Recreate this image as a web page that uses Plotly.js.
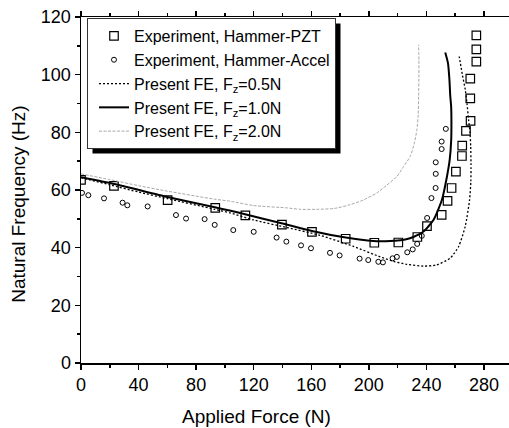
<!DOCTYPE html>
<html>
<head>
<meta charset="utf-8">
<script src="https://cdn.plot.ly/plotly-3.0.1.min.js"></script>
<style>html,body{margin:0;padding:0;background:#fff;overflow:hidden}</style>
</head>
<body>
<div id="chart" style="width:509px;height:428px"></div>
<script>
// Experiment, Hammer-PZT (squares)
const pztForce = [0, 22.9, 60.2, 93.3, 114.2, 139.6, 160.5, 183.9, 203.8, 220.5, 233.7, 240.4, 250.6, 254.7, 257.5, 260.5, 264.7, 264.9, 267.5, 270.7, 270.5, 270.5, 274.7, 274.7, 274.7];
const pztFreq  = [63.5, 61.4, 56.5, 53.8, 51.2, 48.0, 45.5, 43.1, 41.7, 41.8, 43.7, 47.5, 51.4, 56.2, 60.7, 66.4, 71.8, 75.4, 80.5, 84.0, 91.8, 98.6, 104.5, 108.8, 113.6];

// Experiment, Hammer-Accel (circles)
const accForce = [0.7, 5.1, 16.0, 28.9, 32.2, 46.3, 66.0, 73.0, 85.9, 92.9, 105.8, 120.0, 135.9, 142.7, 152.9, 159.8, 173.0, 179.7, 193.6, 199.6, 206.6, 209.8, 216.5, 219.5, 226.7, 230.5, 233.6, 236.8, 240.5, 243.5, 246.4, 246.5, 246.5, 250.6, 250.6, 253.5];
const accFreq  = [59.0, 58.2, 57.1, 55.6, 54.7, 54.3, 51.3, 50.1, 49.9, 47.9, 46.1, 45.5, 43.5, 42.1, 40.8, 39.8, 38.2, 37.3, 36.2, 35.7, 35.1, 34.9, 36.3, 36.8, 38.4, 39.4, 41.3, 44.1, 50.3, 57.2, 60.7, 65.6, 69.6, 74.2, 76.8, 81.2];

// Present FE, Fz=0.5N (dotted)
const fe05Force = [0, 20, 40, 60, 93, 104, 120, 143, 166, 189, 208, 217, 226.5, 238, 247, 256.6, 262.4, 267, 270, 270.9, 271, 270.8, 270.3, 269.3, 268.2, 267, 265, 262.8];
const fe05Freq  = [64.3, 61.8, 59.3, 57.0, 53.3, 52.0, 49.6, 47.0, 44.3, 40.5, 36.8, 35.3, 34.2, 33.6, 34.0, 36.4, 40.4, 47.4, 56.6, 63.0, 69.3, 75.0, 80.0, 84.4, 90.0, 94.8, 100.0, 106.3];

// Present FE, Fz=1.0N (solid)
const fe10Force = [0, 23, 60, 93, 104, 114, 140, 160.5, 184, 203, 215, 222, 226, 231, 238, 245, 250.8, 254.3, 256.2, 257.2, 257.4, 257.2, 256.6, 256.0, 255.0, 253.1];
const fe10Freq  = [64.4, 62.1, 57.6, 54.0, 52.8, 51.6, 48.4, 45.8, 43.5, 42.3, 42.3, 42.6, 42.9, 43.7, 45.6, 49.7, 56.6, 64.7, 70.5, 77.0, 83.0, 89.0, 92.5, 98.3, 104.0, 107.7];

// Present FE, Fz=2.0N (grey dashed)
const fe20Force = [0, 20, 40, 60, 93, 104, 120, 143, 152, 164, 176, 187, 196, 205.6, 212, 219.5, 224, 228.8, 231.5, 233.4, 234.3, 234.6, 234.8, 234.8, 234.6];
const fe20Freq  = [65.6, 63.6, 61.5, 59.6, 56.8, 56.1, 54.6, 53.8, 53.3, 53.3, 53.6, 54.9, 56.5, 59.0, 61.5, 64.7, 68.0, 71.7, 76.0, 80.9, 86.0, 92.5, 100.0, 105.0, 110.4];

const xTickVals = [0, 40, 80, 120, 160, 200, 240, 280];
const yTickVals = [0, 20, 40, 60, 80, 100, 120];
const xTitle = 'Applied Force (N)';
const yTitle = 'Natural Frequency (Hz)';

const FONT = 'Liberation Sans, Arial, sans-serif';

const traces = [
  {x: pztForce, y: pztFreq, mode: 'markers', type: 'scatter', name: 'Experiment, Hammer-PZT',
   marker: {symbol: 'square-open', size: 8.5, color: '#000', line: {width: 1.2, color: '#000'}}},
  {x: accForce, y: accFreq, mode: 'markers', type: 'scatter', name: 'Experiment, Hammer-Accel',
   marker: {symbol: 'circle-open', size: 5, color: '#000', line: {width: 1, color: '#000'}}},
  {x: fe05Force, y: fe05Freq, mode: 'lines', type: 'scatter', name: 'Present FE, F<sub>z</sub>=0.5N',
   line: {color: '#000', width: 1.3, dash: '2px,2px', shape: 'spline', smoothing: 0.6}},
  {x: fe10Force, y: fe10Freq, mode: 'lines', type: 'scatter', name: 'Present FE, F<sub>z</sub>=1.0N',
   line: {color: '#000', width: 2, shape: 'spline', smoothing: 0.6}},
  {x: fe20Force, y: fe20Freq, mode: 'lines', type: 'scatter', name: 'Present FE, F<sub>z</sub>=2.0N',
   line: {color: '#a8a8a8', width: 1, dash: '3px,1.5px', shape: 'spline', smoothing: 0.6}}
];

const layout = {
  width: 509, height: 428,
  margin: {l: 81, r: 0, t: 17, b: 65},
  paper_bgcolor: '#fff', plot_bgcolor: '#fff',
  font: {family: FONT, color: '#000', size: 18},
  showlegend: true,
  legend: {
    x: 0.014, y: 0.997, xanchor: 'left', yanchor: 'top',
    bgcolor: '#fff', bordercolor: '#333', borderwidth: 1,
    font: {family: FONT, size: 16, color: '#000'},
    tracegroupgap: 0, itemwidth: 30, indentation: 6
  },
  xaxis: {
    range: [0, 297.4], tickvals: xTickVals, ticktext: xTickVals.map(String),
    showgrid: false, zeroline: false, showline: true, linecolor: '#000', linewidth: 1.5,
    mirror: 'ticks', ticks: 'outside', ticklen: 5, tickwidth: 1.5, tickcolor: '#000',
    minor: {dtick: 20, tick0: 0, ticks: 'outside', ticklen: 3, tickwidth: 1.5, tickcolor: '#000', showgrid: false},
    tickfont: {family: FONT, size: 18},
    title: {text: ''}
  },
  yaxis: {
    range: [0, 120], tickvals: yTickVals, ticktext: yTickVals.map(String),
    showgrid: false, zeroline: false, showline: true, linecolor: '#000', linewidth: 1.5,
    ticks: 'outside', ticklen: 5, tickwidth: 1.5, tickcolor: '#000',
    minor: {dtick: 10, tick0: 0, ticks: 'outside', ticklen: 3, tickwidth: 1.5, tickcolor: '#000', showgrid: false},
    tickfont: {family: FONT, size: 18},
    title: {text: ''}
  },
  annotations: [
    {text: xTitle, xref: 'paper', yref: 'paper', x: 0.411, y: -0.155, xanchor: 'center', yanchor: 'middle',
     showarrow: false, font: {family: FONT, size: 19}},
    {text: yTitle, xref: 'paper', yref: 'paper', x: -0.145, y: 0.46, xanchor: 'center', yanchor: 'middle',
     textangle: -90, showarrow: false, font: {family: FONT, size: 19}}
  ],
  shapes: [
    {type: 'rect', xref: 'paper', yref: 'paper', layer: 'above',
     x0: 0.0257, x1: 0.6234, y0: 0.634, y1: 0.981,
     fillcolor: '#000', line: {width: 0}}
  ]
};

Plotly.newPlot('chart', traces, layout, {displayModeBar: false, staticPlot: true}).then(function (gd) {
  // place the drop shadow exactly behind the drawn legend box, offset 5px
  const bg = gd.querySelector('.legend .bg');
  const root = gd.querySelector('.main-svg').getBoundingClientRect();
  if (!bg) return;
  const r = bg.getBoundingClientRect();
  const sz = gd._fullLayout._size;
  const px2x = p => (p - root.left - sz.l) / sz.w;
  const px2y = p => 1 - (p - root.top - sz.t) / sz.h;
  return Plotly.relayout(gd, {
    'shapes[0].x0': px2x(r.left + 5), 'shapes[0].x1': px2x(r.right + 5),
    'shapes[0].y0': px2y(r.bottom + 5), 'shapes[0].y1': px2y(r.top + 5)
  });
});
</script>
</body>
</html>
